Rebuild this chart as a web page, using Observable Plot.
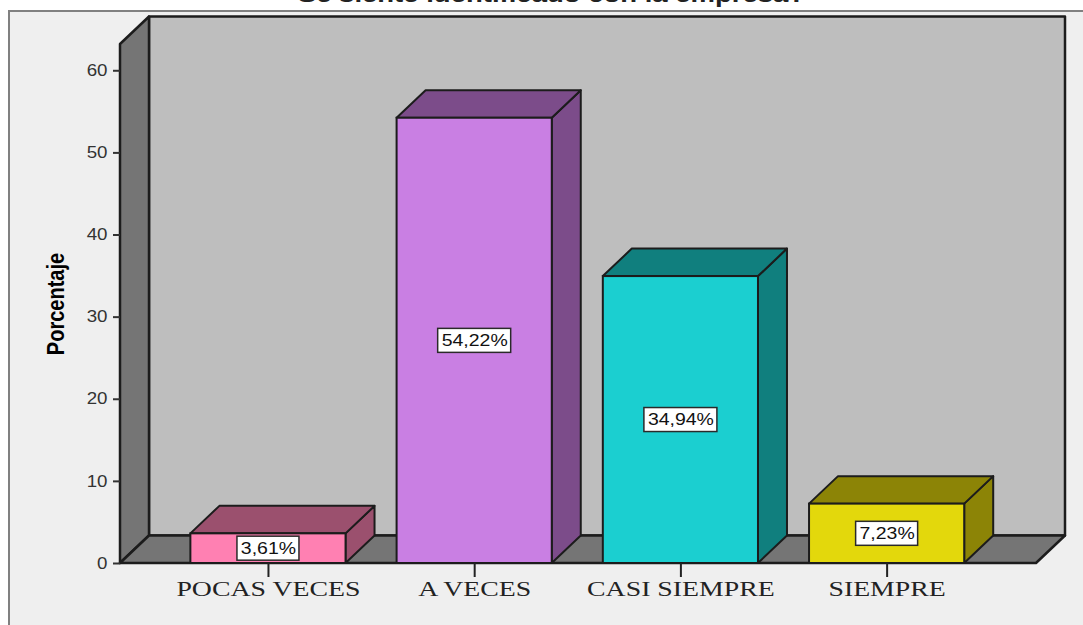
<!DOCTYPE html>
<html>
<head>
<meta charset="utf-8">
<script src="https://cdn.jsdelivr.net/npm/d3@7"></script>
<script src="https://cdn.jsdelivr.net/npm/@observablehq/plot@0.6"></script>
<style>html,body{margin:0;padding:0;background:#fff;overflow:hidden}svg{display:block}</style>
</head>
<body>
<script>
const categories = ["POCAS VECES", "A VECES", "CASI SIEMPRE", "SIEMPRE"];
const values = [3.61, 54.22, 34.94, 7.23];
const valueLabels = ["3,61%", "54,22%", "34,94%", "7,23%"];
const frontColors = ["#ff80b2", "#c97fe3", "#1bcfd0", "#e3d80c"];
const sideColors = ["#9b506e", "#7c4c8a", "#107f7e", "#8c8406"];
const yTicks = [0, 10, 20, 30, 40, 50, 60];
const titleText = "Se siente identificado con la empresa?";
const yLabel = "Porcentaje";

const rows = categories.map((category, i) => ({
  category, value: values[i], label: valueLabels[i], front: frontColors[i], side: sideColors[i]
}));

const depthX = 29, depthY = -27.5, edge = "#1c1c1c";

function poly(g, pts, fill, sw = 2) {
  g.append("polygon").attr("points", pts.map(p => p.join(",")).join(" "))
    .attr("fill", fill).attr("stroke", edge).attr("stroke-width", sw).attr("stroke-linejoin", "round");
}

// Panel background and frame
function panelMark(_i, _s, _v, dim) {
  const g = d3.create("svg:g");
  g.append("rect").attr("x", 9).attr("y", 11).attr("width", dim.width + 20).attr("height", dim.height + 20)
    .attr("fill", "#efefef").attr("stroke", "#808080").attr("stroke-width", 2);
  return g.node();
}

// Walls and floor of the box, from the scales
function wallsMark(_i, { x, y }) {
  const g = d3.create("svg:g");
  const [l, r] = x.range();
  const b = y(0), t = y(y.domain()[1]);
  poly(g, [[l + depthX, t + depthY], [r + depthX, t + depthY], [r + depthX, b + depthY], [l + depthX, b + depthY]], "#bebebe", 2.5);
  poly(g, [[l, t], [l + depthX, t + depthY], [l + depthX, b + depthY], [l, b]], "#757575", 2.5);
  poly(g, [[l, b], [l + depthX, b + depthY], [r + depthX, b + depthY], [r, b]], "#757575", 2.5);
  return g.node();
}

// Top and side faces of each bar
function facesMark(_i, { x, y }) {
  const g = d3.create("svg:g");
  for (const d of rows) {
    const a = x(d.category), c = a + x.bandwidth(), t = y(d.value), b = y(0);
    poly(g, [[c, t], [c + depthX, t + depthY], [c + depthX, b + depthY], [c, b]], d.side);
    poly(g, [[a, t], [a + depthX, t + depthY], [c + depthX, t + depthY], [c, t]], d.side);
  }
  return g.node();
}

// White boxes behind the value labels
function boxesMark(_i, { x, y }) {
  const g = d3.create("svg:g");
  for (const d of rows) {
    const w = d.label.length > 5 ? 73 : 62, h = 24;
    g.append("rect").attr("x", x(d.category) + x.bandwidth() / 2 - w / 2).attr("y", y(d.value / 2) - h / 2)
      .attr("width", w).attr("height", h).attr("fill", "#fff").attr("stroke", "#2a2a2a").attr("stroke-width", 1.5);
  }
  return g.node();
}

const chart = Plot.plot({
  width: 1083,
  height: 625,
  marginLeft: 120,
  marginRight: 47,
  marginTop: 44,
  marginBottom: 62,
  style: { background: "#fff", fontFamily: "'Liberation Sans', Arial, sans-serif" },
  x: { type: "band", domain: categories, paddingInner: 0.2476, paddingOuter: 0.3447, align: 0.495, round: false, label: null },
  y: { domain: [0, 63.2], label: null },
  marks: [
    panelMark,
    wallsMark,
    facesMark,
    Plot.barY(rows, { x: "category", y: "value", fill: "front", stroke: edge, strokeWidth: 2 }),
    boxesMark,
    Plot.text(rows, { x: "category", y: d => d.value / 2, text: "label", fontSize: 16.5, fill: "#111", className: "vals" }),
    Plot.axisY({ ticks: yTicks, tickSize: 7, tickPadding: 6, fontSize: 16, color: "#333", strokeWidth: 2, label: null, tickFormat: d => d }),
    Plot.axisX({ tickSize: 14, tickPadding: 4, fontSize: 20, fontFamily: "'Liberation Serif', serif", color: "#222", strokeWidth: 2, label: null }),
    Plot.text([yLabel], { text: d => d, frameAnchor: "left", textAnchor: "middle", rotate: -90, dx: -64, fontSize: 23, fontWeight: "bold", fill: "#000", className: "ylab" }),
    Plot.text([titleText], { text: d => d, frameAnchor: "top", dx: -27, dy: -58, fontSize: 22, fontWeight: "bold", fill: "#222", className: "title" })
  ]
});
document.body.append(chart);

function stretch(sel, k) {
  chart.querySelectorAll(sel).forEach(t => {
    t.setAttribute("textLength", t.getComputedTextLength() * k);
    t.setAttribute("lengthAdjust", "spacingAndGlyphs");
  });
}
stretch('g[aria-label="y-axis tick label"] text', 1.17);
stretch('g[aria-label="x-axis tick label"] text', 1.39);
stretch('.vals text', 1.18);
stretch('.ylab text', 0.87);
stretch('.title text', 1.25);
</script>
</body>
</html>
